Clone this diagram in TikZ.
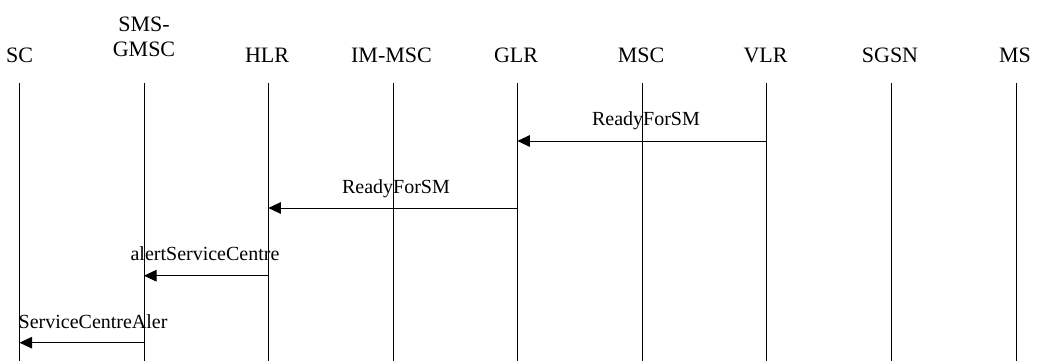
\documentclass[tikz,border=0pt]{standalone}
\usepackage{fontspec}
\setmainfont{Liberation Serif}
\usetikzlibrary{arrows.meta}
\begin{document}
\begin{tikzpicture}[x=1pt,y=-1pt,
  hdr/.style={anchor=base,inner sep=0pt,font=\fontsize{22}{25}\selectfont},
  msg/.style={anchor=base,inner sep=0pt,font=\fontsize{20}{25}\selectfont},
  life/.style={line width=1pt,black},
  arr/.style={line width=1pt,-{Triangle[length=12.5pt,width=11.5pt]}}]
\useasboundingbox (0,0) rectangle (1037,361);
% headers
\node[hdr] (SC) at (19.5,63) {SC};
\node[hdr,align=center] (GMSC) at (144,57) {SMS-\\GMSC};
\node[hdr] (HLR) at (267,63) {HLR};
\node[hdr] (IMMSC) at (391.5,63) {IM-MSC};
\node[hdr] (GLR) at (516,63) {GLR};
\node[hdr] (MSC) at (641,63) {MSC};
\node[hdr] (VLR) at (765.5,63) {VLR};
\node[hdr] (SGSN) at (890,63) {SGSN};
\node[hdr] (MS) at (1015,63) {MS};
% lifelines
\foreach \n/\x in {SC/19.5,GMSC/144,HLR/268.3,IMMSC/393,GLR/517.3,MSC/642.3,VLR/766.7,SGSN/891.3,MS/1016}{
  \coordinate (\n t) at (\x,83);
  \coordinate (\n b) at (\x,361);
  \draw[life] (\n t) -- (\n b);
}
% messages
\coordinate (m1a) at (766.7,141); \coordinate (m1b) at (517.3,141);
\draw[arr] (m1a) -- (m1b);
\node[msg] (l1) at (646,125) {ReadyForSM};
\coordinate (m2a) at (517.3,208); \coordinate (m2b) at (268.3,208);
\draw[arr] (m2a) -- (m2b);
\node[msg] (l2) at (396,193) {ReadyForSM};
\coordinate (m3a) at (268.3,275.7); \coordinate (m3b) at (144,275.7);
\draw[arr] (m3a) -- (m3b);
\node[msg] (l3) at (205,260.7) {alertServiceCentre};
\coordinate (m4a) at (144,342.7); \coordinate (m4b) at (19.5,342.7);
\draw[arr] (m4a) -- (m4b);
\node[msg,anchor=base west] (l4) at (18.5,328) {ServiceCentreAler};
\end{tikzpicture}
\end{document}
